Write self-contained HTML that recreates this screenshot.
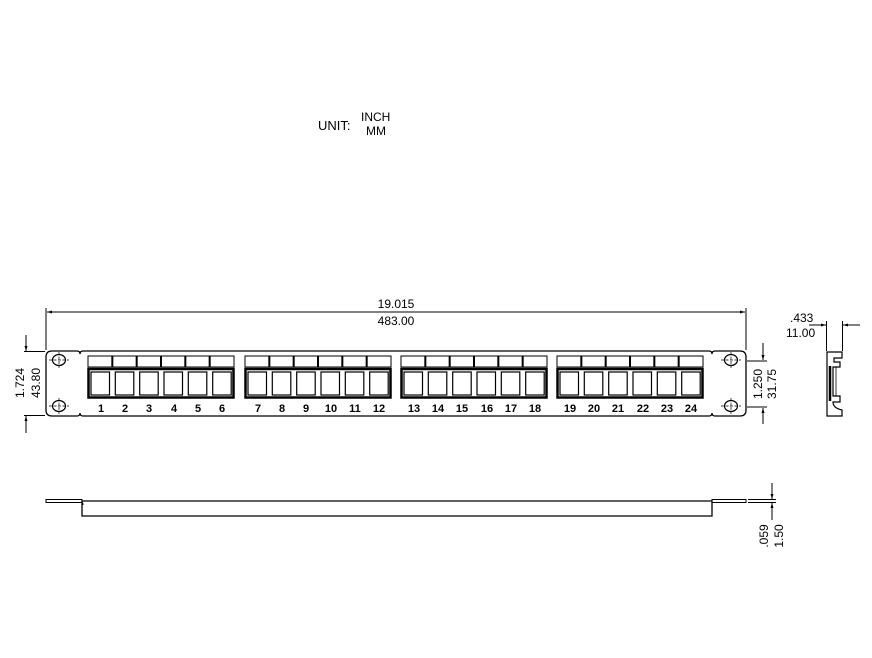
<!DOCTYPE html>
<html><head><meta charset="utf-8"><style>
html,body{margin:0;padding:0;background:#fff;}
svg{display:block;}
text{font-family:"Liberation Sans",sans-serif;fill:#000;}
</style></head><body>
<svg width="872" height="658" viewBox="0 0 872 658" xmlns="http://www.w3.org/2000/svg">
<defs>
<g id="grp">
  <rect x="0" y="356" width="146" height="11" fill="none" stroke="#000" stroke-width="1"/>
  <line x1="24.33" y1="356" x2="24.33" y2="367" stroke="#000" stroke-width="2"/>
  <line x1="48.67" y1="356" x2="48.67" y2="367" stroke="#000" stroke-width="2"/>
  <line x1="73" y1="356" x2="73" y2="367" stroke="#000" stroke-width="2"/>
  <line x1="97.33" y1="356" x2="97.33" y2="367" stroke="#000" stroke-width="2"/>
  <line x1="121.67" y1="356" x2="121.67" y2="367" stroke="#000" stroke-width="2"/>
  <rect x="0.5" y="369" width="145" height="28.5" fill="none" stroke="#000" stroke-width="2.5"/>
  <rect x="3" y="372" width="18.5" height="23" fill="none" stroke="#000" stroke-width="1.2"/>
  <rect x="27.3" y="372" width="18.5" height="23" fill="none" stroke="#000" stroke-width="1.2"/>
  <rect x="51.7" y="372" width="18.5" height="23" fill="none" stroke="#000" stroke-width="1.2"/>
  <rect x="76" y="372" width="18.5" height="23" fill="none" stroke="#000" stroke-width="1.2"/>
  <rect x="100.3" y="372" width="18.5" height="23" fill="none" stroke="#000" stroke-width="1.2"/>
  <rect x="124.7" y="372" width="18.5" height="23" fill="none" stroke="#000" stroke-width="1.2"/>
</g>
<g id="hole">
  <ellipse cx="0" cy="0" rx="6.5" ry="5.5" fill="none" stroke="#000" stroke-width="1.2"/>
  <line x1="-10" y1="0" x2="10" y2="0" stroke="#000" stroke-width="0.7" stroke-dasharray="3,1.5"/>
  <line x1="0" y1="-8" x2="0" y2="8" stroke="#000" stroke-width="0.7" stroke-dasharray="3,1.5"/>
</g>
<marker id="ar" viewBox="0 0 10 10" refX="10" refY="5" markerWidth="7" markerHeight="5" orient="auto-start-reverse"><path d="M0,2 L10,5 L0,8 z" fill="#000"/></marker>
</defs>

<!-- unit -->
<text x="318" y="130" font-size="13">UNIT:</text>
<text x="361" y="121" font-size="12">INCH</text>
<text x="366" y="135" font-size="12">MM</text>

<!-- panel outline -->
<path d="M52,351 H77 q3,0 3,3 q0,-3 3,-3 H709 q3,0 3,3 q0,-3 3,-3 H740 q6,0 6,6 V410 q0,6 -6,6 H715 q-3,0 -3,-3 q0,3 -3,3 H83 q-3,0 -3,-3 q0,3 -3,3 H52 q-6,0 -6,-6 V357 q0,-6 6,-6 z" fill="none" stroke="#000" stroke-width="1.3"/>
<use href="#hole" x="59" y="360"/>
<use href="#hole" x="59" y="406"/>
<use href="#hole" x="731" y="360"/>
<use href="#hole" x="731" y="406"/>

<use href="#grp" x="88" y="0"/>
<use href="#grp" x="245" y="0"/>
<use href="#grp" x="401" y="0"/>
<use href="#grp" x="557" y="0"/>

<g font-size="11" font-weight="bold" text-anchor="middle">
<text x="101" y="412">1</text><text x="125" y="412">2</text><text x="149" y="412">3</text><text x="174" y="412">4</text><text x="198" y="412">5</text><text x="222" y="412">6</text>
<text x="258" y="412">7</text><text x="282" y="412">8</text><text x="306" y="412">9</text><text x="331" y="412">10</text><text x="355" y="412">11</text><text x="379" y="412">12</text>
<text x="414" y="412">13</text><text x="438" y="412">14</text><text x="462" y="412">15</text><text x="487" y="412">16</text><text x="511" y="412">17</text><text x="535" y="412">18</text>
<text x="570" y="412">19</text><text x="594" y="412">20</text><text x="618" y="412">21</text><text x="643" y="412">22</text><text x="667" y="412">23</text><text x="691" y="412">24</text>
</g>

<!-- top dimension -->
<line x1="46" y1="308" x2="46" y2="350" stroke="#000" stroke-width="1"/>
<line x1="746" y1="308" x2="746" y2="350" stroke="#000" stroke-width="1"/>
<line x1="47" y1="312" x2="745" y2="312" stroke="#000" stroke-width="1" marker-start="url(#ar)" marker-end="url(#ar)"/>
<text x="396" y="308" font-size="12" text-anchor="middle">19.015</text>
<text x="396" y="325" font-size="12" text-anchor="middle">483.00</text>

<!-- left dimension -->
<line x1="24" y1="351.5" x2="45" y2="351.5" stroke="#000" stroke-width="1"/>
<line x1="24" y1="415.5" x2="45" y2="415.5" stroke="#000" stroke-width="1"/>
<line x1="26" y1="335" x2="26" y2="351" stroke="#000" stroke-width="1" marker-end="url(#ar)"/>
<line x1="26" y1="433" x2="26" y2="416" stroke="#000" stroke-width="1" marker-end="url(#ar)"/>
<text transform="translate(24,383) rotate(-90)" font-size="12" text-anchor="middle">1.724</text>
<text transform="translate(40,383) rotate(-90)" font-size="12" text-anchor="middle">43.80</text>

<!-- right dimension -->
<line x1="747" y1="361" x2="767" y2="361" stroke="#000" stroke-width="1"/>
<line x1="747" y1="407" x2="767" y2="407" stroke="#000" stroke-width="1"/>
<line x1="763" y1="343" x2="763" y2="360" stroke="#000" stroke-width="1" marker-end="url(#ar)"/>
<line x1="763" y1="424" x2="763" y2="408" stroke="#000" stroke-width="1" marker-end="url(#ar)"/>
<text transform="translate(762,384) rotate(-90)" font-size="12" text-anchor="middle">1.250</text>
<text transform="translate(776,384) rotate(-90)" font-size="12" text-anchor="middle">31.75</text>

<!-- side profile -->
<text x="790" y="322" font-size="12">.433</text>
<text x="786" y="337" font-size="12">11.00</text>
<line x1="826.5" y1="321" x2="826.5" y2="351" stroke="#000" stroke-width="1"/>
<line x1="842.5" y1="321" x2="842.5" y2="351" stroke="#000" stroke-width="1"/>
<line x1="809" y1="325" x2="826" y2="325" stroke="#000" stroke-width="1" marker-end="url(#ar)"/>
<line x1="860" y1="325" x2="843" y2="325" stroke="#000" stroke-width="1" marker-end="url(#ar)"/>
<path d="M827,352 H842 V358 H834 V362 H840 V367 H833 V396 H840 V402 H833 Q833,408 842,410 V416 H827 Z" fill="none" stroke="#000" stroke-width="1.2"/>
<line x1="830" y1="366" x2="830" y2="401" stroke="#000" stroke-width="2.5"/>
<line x1="836" y1="367" x2="836" y2="396" stroke="#000" stroke-width="0.8"/>

<!-- bottom view -->
<rect x="46" y="499.5" width="36" height="3" fill="none" stroke="#000" stroke-width="1"/>
<path d="M82,501 H712 V516 H82 Z" fill="none" stroke="#000" stroke-width="1.3"/>
<path d="M81,502 Q83,502 83,505" fill="none" stroke="#000" stroke-width="1"/>
<rect x="712" y="499.5" width="34" height="3" fill="none" stroke="#000" stroke-width="1"/>
<line x1="748" y1="499.5" x2="776" y2="499.5" stroke="#000" stroke-width="1"/>
<line x1="748" y1="502.5" x2="776" y2="502.5" stroke="#000" stroke-width="1"/>
<line x1="772" y1="483" x2="772" y2="499" stroke="#000" stroke-width="1" marker-end="url(#ar)"/>
<line x1="772" y1="520" x2="772" y2="503" stroke="#000" stroke-width="1" marker-end="url(#ar)"/>
<text transform="translate(768,536) rotate(-90)" font-size="12" text-anchor="middle">.059</text>
<text transform="translate(783,536) rotate(-90)" font-size="12" text-anchor="middle">1.50</text>
</svg>
</body></html>
